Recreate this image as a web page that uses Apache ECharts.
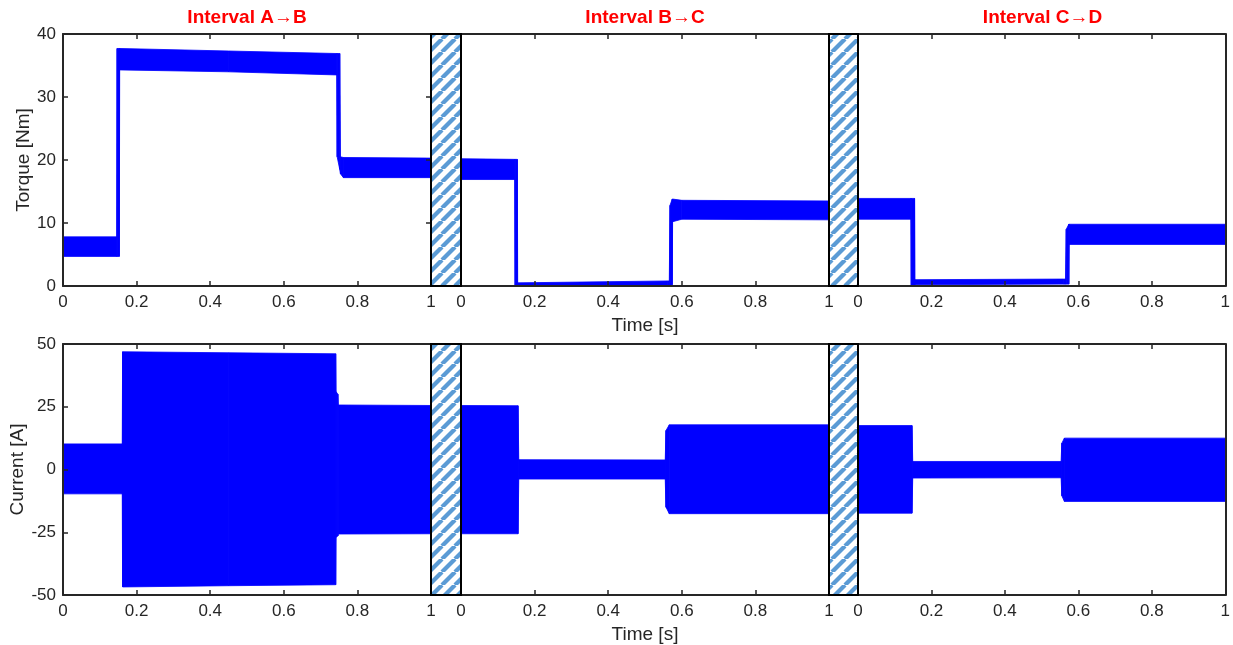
<!DOCTYPE html>
<html><head><meta charset="utf-8">
<script src="https://cdn.jsdelivr.net/npm/echarts@6/dist/echarts.min.js"></script>
<style>html,body{margin:0;padding:0;background:#fff}#c{width:1233px;height:645px}</style>
</head><body><div id="c"></div>
<script>
// ---------------- data ----------------
const intervalTitles = ['Interval A→B', 'Interval B→C', 'Interval C→D'];
const timeTicks = [0, 0.2, 0.4, 0.6, 0.8, 1];
const torqueTicks = [0, 10, 20, 30, 40];
const currentTicks = [-50, -25, 0, 25, 50];

// Torque envelopes [Nm]: time, lower edge, upper edge of the oscillation band
const tqAB_t  = [0, 0.146, 0.147, 0.153, 0.154, 0.45, 0.744, 0.745, 0.752, 0.754, 0.762, 1];
const tqAB_hi = [7.8, 7.8, 37.7, 37.7, 37.7, 37.3, 36.9, 36.9, 36.9, 20.5, 20.4, 20.3];
const tqAB_lo = [4.7, 4.7, 4.7, 4.7, 34.3, 34.0, 33.5, 20.5, 18.5, 17.8, 17.2, 17.2];

const tqBC_t  = [0, 0.146, 0.147, 0.153, 0.154, 0.56, 0.566, 0.568, 0.574, 0.575, 0.6, 1];
const tqBC_hi = [20.2, 20.1, 20.1, 20.1, 0.5, 0.8, 0.8, 12.8, 13.8, 13.8, 13.6, 13.5];
const tqBC_lo = [16.9, 16.9, 0, 0, 0, 0.1, 0.1, 0.1, 0.2, 10.2, 10.6, 10.5];

const tqCD_t  = [0, 0.144, 0.145, 0.154, 0.155, 0.56, 0.565, 0.567, 0.574, 0.575, 1];
const tqCD_hi = [13.9, 13.9, 13.9, 13.9, 1.0, 1.1, 1.1, 9.0, 9.8, 9.8, 9.8];
const tqCD_lo = [10.6, 10.6, 0.1, 0.1, 0.2, 0.3, 0.3, 0.3, 0.3, 6.6, 6.6];

// Current envelopes [A]
const cuAB_t  = [0, 0.161, 0.162, 0.45, 0.741, 0.742, 0.747, 0.748, 1];
const cuAB_hi = [10.2, 10.2, 46.9, 46.5, 46.1, 31, 30, 25.7, 25.5];
const cuAB_lo = [-9.7, -9.7, -46.8, -46.3, -45.9, -27, -26.5, -25.7, -25.6];

const cuBC_t  = [0, 0.155, 0.157, 0.555, 0.557, 0.566, 1];
const cuBC_hi = [25.5, 25.4, 3.9, 3.8, 15.5, 17.8, 17.8];
const cuBC_lo = [-25.6, -25.6, -3.8, -3.8, -15, -17.6, -17.6];

const cuCD_t  = [0, 0.147, 0.149, 0.553, 0.555, 0.562, 1];
const cuCD_hi = [17.5, 17.5, 3.2, 3.2, 10.5, 12.5, 12.5];
const cuCD_lo = [-17.4, -17.4, -3.4, -3.3, -10.5, -12.7, -12.7];

// ---------------- layout & style ----------------
const FONT = '"Liberation Sans", Arial, Helvetica, sans-serif';
const INK = '#262626';
const BLUE = '#0000ff';
const colLeft = [63, 461, 858];
const colWidth = [368, 368, 369];
const rowTop = [34, 344];
const rowHeight = [252, 251];

const panels = [
  {row: 0, col: 0, t: tqAB_t, lo: tqAB_lo, hi: tqAB_hi},
  {row: 0, col: 1, t: tqBC_t, lo: tqBC_lo, hi: tqBC_hi},
  {row: 0, col: 2, t: tqCD_t, lo: tqCD_lo, hi: tqCD_hi},
  {row: 1, col: 0, t: cuAB_t, lo: cuAB_lo, hi: cuAB_hi},
  {row: 1, col: 1, t: cuBC_t, lo: cuBC_lo, hi: cuBC_hi},
  {row: 1, col: 2, t: cuCD_t, lo: cuCD_lo, hi: cuCD_hi}
];

const grid = [], xAxis = [], yAxis = [], series = [];
const tickStyle = {inside: true, length: 5, lineStyle: {color: INK, width: 1.5}};
const lineSt = {show: true, onZero: false, lineStyle: {color: INK, width: 2}};

function bandItem(params, api) {
  const p0 = api.coord([api.value(0), api.value(1)]);
  const p1 = api.coord([api.value(0), api.value(2)]);
  const p2 = api.coord([api.value(3), api.value(5)]);
  const p3 = api.coord([api.value(3), api.value(4)]);
  return {
    type: 'polygon',
    shape: {points: [p0, p1, p2, p3]},
    style: {fill: BLUE, stroke: BLUE, lineWidth: 0.8}
  };
}

panels.forEach((p, i) => {
  grid.push({left: colLeft[p.col], top: rowTop[p.row], width: colWidth[p.col], height: rowHeight[p.row], containLabel: false});
  const yt = p.row === 0 ? torqueTicks : currentTicks;
  const base = {
    type: 'value', gridIndex: i, min: timeTicks[0], max: timeTicks[timeTicks.length - 1],
    interval: timeTicks[1] - timeTicks[0], splitLine: {show: false}, axisLine: lineSt, axisTick: tickStyle, z: 5
  };
  xAxis.push(Object.assign({}, base, {
    position: 'bottom',
    axisLabel: {color: INK, fontSize: 17, fontFamily: FONT, margin: 8},
    name: p.col === 1 ? 'Time [s]' : '', nameLocation: 'middle', nameGap: 30,
    nameTextStyle: {color: INK, fontSize: 19, fontFamily: FONT}
  }));
  xAxis.push(Object.assign({}, base, {position: 'top', axisLabel: {show: false}}));
  const ybase = {
    type: 'value', gridIndex: i, min: yt[0], max: yt[yt.length - 1], interval: yt[1] - yt[0],
    splitLine: {show: false}, axisLine: lineSt, z: 5
  };
  yAxis.push(Object.assign({}, ybase, {
    position: 'left',
    axisTick: p.col === 0 ? tickStyle : {show: false},
    axisLabel: {show: p.col === 0, color: INK, fontSize: 17, fontFamily: FONT, margin: 7},
    name: p.col === 0 ? (p.row === 0 ? 'Torque [Nm]' : 'Current [A]') : '',
    nameLocation: 'middle', nameGap: p.row === 0 ? 30 : 35,
    nameTextStyle: {color: INK, fontSize: 19, fontFamily: FONT}
  }));
  yAxis.push(Object.assign({}, ybase, {
    position: 'right',
    axisTick: (p.col === 0 && p.row === 0) ? tickStyle : {show: false},
    axisLabel: {show: false}
  }));
  // band segments: [t0, lo0, hi0, t1, lo1, hi1]
  const segs = [];
  for (let k = 0; k < p.t.length - 1; k++) {
    segs.push([p.t[k], p.lo[k], p.hi[k], p.t[k + 1], p.lo[k + 1], p.hi[k + 1]]);
  }
  series.push({
    type: 'custom', xAxisIndex: 2 * i, yAxisIndex: 2 * i,
    renderItem: bandItem, data: segs, silent: true, z: 2,
    encode: {x: [0, 3], y: [1, 2, 4, 5]}
  });
});

// hatch pattern for the separators
const TILE = 13;
const pc = document.createElement('canvas');
pc.width = TILE; pc.height = TILE;
const cx = pc.getContext('2d');
cx.fillStyle = '#ffffff'; cx.fillRect(0, 0, TILE, TILE);
cx.strokeStyle = '#5b9bd5'; cx.lineWidth = 4.2;
for (let k = -1; k <= 1; k++) {
  cx.beginPath(); cx.moveTo(k * TILE, TILE); cx.lineTo((k + 1) * TILE, 0); cx.stroke();
}

const graphic = [];
intervalTitles.forEach((txt, c) => {
  graphic.push({
    type: 'text', x: colLeft[c] + colWidth[c] / 2, y: 18, z: 10,
    style: {text: txt, fill: '#ff0000', font: 'bold 19px ' + FONT, textAlign: 'center', textVerticalAlign: 'middle'}
  });
});
for (let r = 0; r < 2; r++) {
  for (let g = 0; g < 2; g++) {
    const x0 = colLeft[g] + colWidth[g];
    graphic.push({
      type: 'rect', z: 100,
      shape: {x: x0, y: rowTop[r], width: colLeft[g + 1] - x0, height: rowHeight[r]},
      style: {fill: {image: pc, repeat: 'repeat'}, stroke: '#000000', lineWidth: 2}
    });
  }
}

const chart = echarts.init(document.getElementById('c'), null, {renderer: 'canvas'});
chart.setOption({
  animation: false,
  backgroundColor: '#ffffff',
  grid, xAxis, yAxis, series, graphic
});
</script></body></html>
